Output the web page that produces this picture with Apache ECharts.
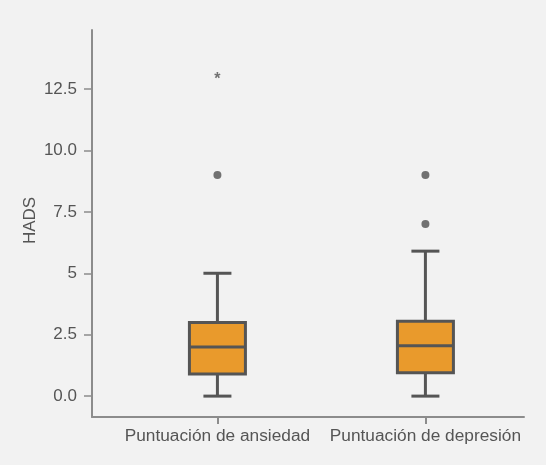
<!DOCTYPE html>
<html>
<head>
<meta charset="utf-8">
<script src="https://cdn.jsdelivr.net/npm/echarts@6/dist/echarts.min.js"></script>
<style>html,body{margin:0;padding:0;background:#f2f2f2;}#c{width:546px;height:465px;}</style>
</head>
<body>
<div id="c"></div>
<script>
const categories = ['Puntuación de ansiedad', 'Puntuación de depresión'];
const categoryPos = [1, 2];
// [min, Q1, median, Q3, max]
const boxValues = [
  [0, 0.9, 2.0, 3.0, 5.0],
  [0, 0.95, 2.05, 3.05, 5.9]
];
const outlierDots = [[1, 9], [2, 9], [2, 7]];
const outlierStars = [[1, 13]];
const yTickValues = [0, 2.5, 5, 7.5, 10, 12.5];
const yTickLabels = ['0.0', '2.5', '5', '7.5', '10.0', '12.5'];

const chart = echarts.init(document.getElementById('c'), null, {renderer: 'canvas'});
const textColor = '#555555';
const axisColor = '#8c8c8c';
const boxFill = '#E99A2C';
const boxStroke = '#555555';
const BOX_W = 56;

function renderBox(params, api) {
  const x = api.value(0);
  const mn = api.coord([x, api.value(1)]);
  const q1 = api.coord([x, api.value(2)]);
  const md = api.coord([x, api.value(3)]);
  const q3 = api.coord([x, api.value(4)]);
  const mx = api.coord([x, api.value(5)]);
  const cx = mn[0];
  const hw = BOX_W / 2;
  const cw = BOX_W / 4;
  const ls = {stroke: boxStroke, lineWidth: 3};
  return {
    type: 'group',
    children: [
      {type: 'line', shape: {x1: cx, y1: q3[1], x2: cx, y2: mx[1]}, style: ls},
      {type: 'line', shape: {x1: cx, y1: q1[1], x2: cx, y2: mn[1]}, style: ls},
      {type: 'line', shape: {x1: cx - cw, y1: mx[1], x2: cx + cw, y2: mx[1]}, style: ls},
      {type: 'line', shape: {x1: cx - cw, y1: mn[1], x2: cx + cw, y2: mn[1]}, style: ls},
      {type: 'rect', shape: {x: cx - hw, y: q3[1], width: BOX_W, height: q1[1] - q3[1]},
        style: {fill: boxFill, stroke: boxStroke, lineWidth: 3}},
      {type: 'line', shape: {x1: cx - hw, y1: md[1], x2: cx + hw, y2: md[1]}, style: ls}
    ]
  };
}

chart.setOption({
  backgroundColor: '#f2f2f2',
  animation: false,
  grid: {left: 92, right: 22, top: 30, bottom: 48},
  xAxis: {
    type: 'value', min: 0.397, max: 2.474,
    splitLine: {show: false},
    axisLine: {show: true, onZero: false, lineStyle: {color: axisColor, width: 2}},
    axisTick: {show: true, customValues: categoryPos, length: 7, lineStyle: {color: axisColor, width: 2}},
    axisLabel: {
      customValues: categoryPos,
      formatter: v => categories[categoryPos.indexOf(v)] || '',
      color: textColor, fontSize: 17.3, fontFamily: 'Liberation Sans', margin: 11
    }
  },
  yAxis: {
    type: 'value', min: -0.85, max: 14.9,
    name: 'HADS', nameLocation: 'middle', nameGap: 53, nameMoveOverlap: false,
    nameTextStyle: {color: textColor, fontSize: 17, fontFamily: 'Liberation Sans', padding: [0, 0, 0, 6]},
    splitLine: {show: false},
    axisLine: {show: true, onZero: false, lineStyle: {color: axisColor, width: 2}},
    axisTick: {show: true, customValues: yTickValues, length: 8, lineStyle: {color: axisColor, width: 1.5}},
    axisLabel: {
      customValues: yTickValues,
      formatter: v => yTickLabels[yTickValues.indexOf(v)],
      color: textColor, fontSize: 17, fontFamily: 'Liberation Sans', margin: 15
    }
  },
  series: [
    {
      type: 'custom',
      renderItem: renderBox,
      data: boxValues.map((b, i) => [categoryPos[i]].concat(b)),
      encode: {x: 0, y: [1, 2, 3, 4, 5]}
    },
    {
      type: 'scatter',
      data: outlierDots,
      symbol: 'circle', symbolSize: 8,
      itemStyle: {color: '#505050'}
    },
    {
      type: 'scatter',
      data: outlierStars,
      symbolSize: 1,
      itemStyle: {color: 'rgba(0,0,0,0)'},
      label: {show: true, position: 'inside', formatter: '*', color: '#505050', fontSize: 16, fontWeight: 'bold', fontFamily: 'Liberation Sans', offset: [0, 3]}
    }
  ]
});
</script>
</body>
</html>
